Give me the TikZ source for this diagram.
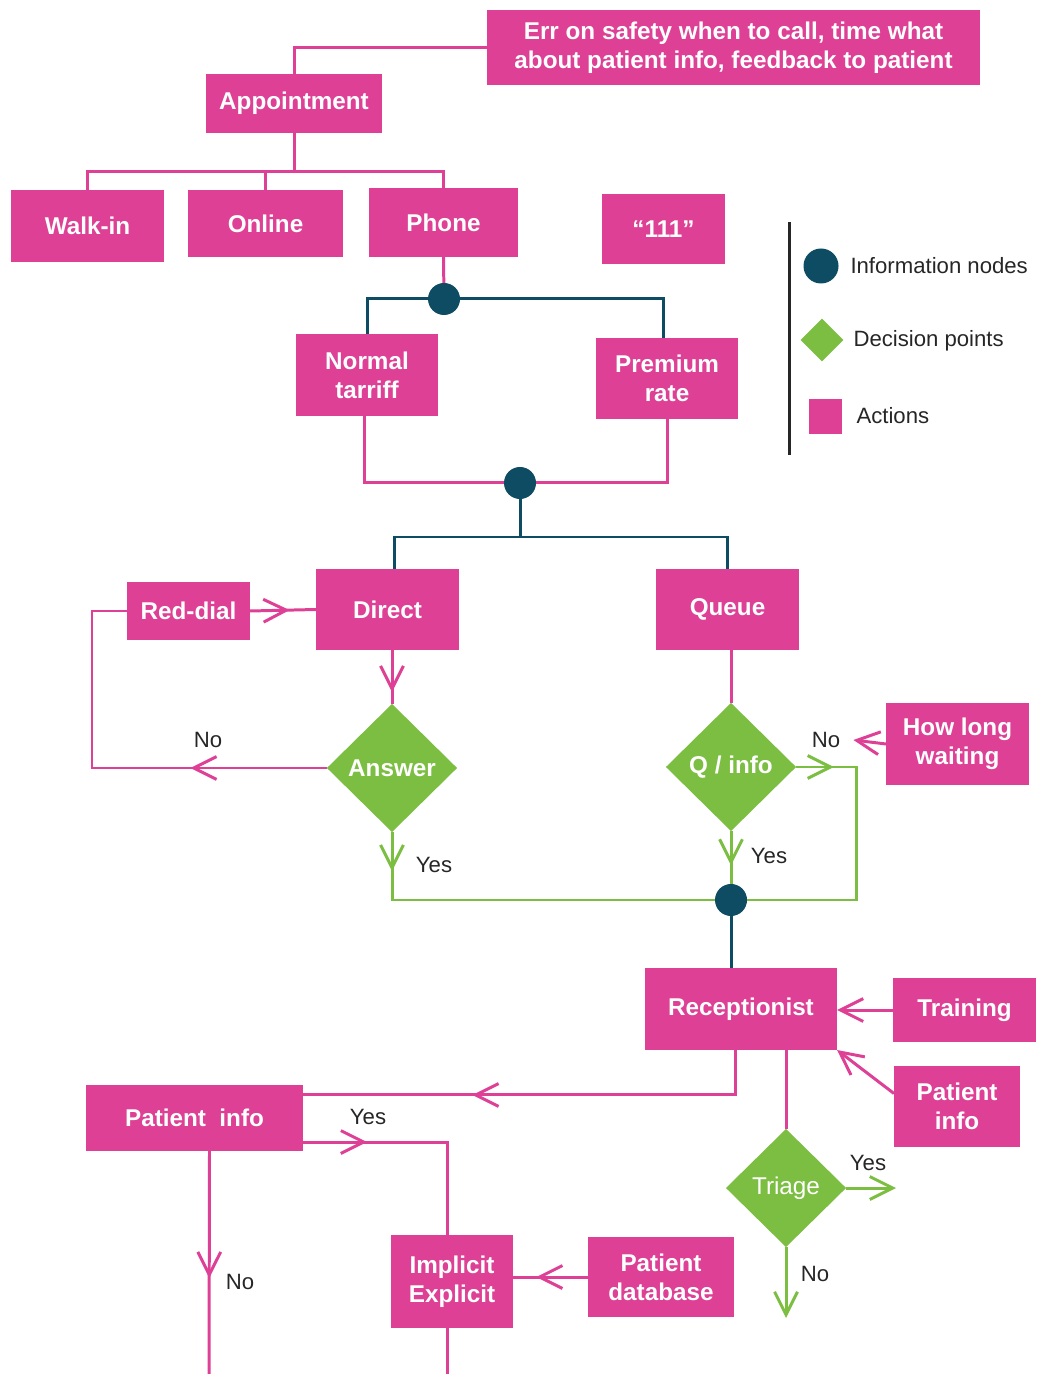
\documentclass[tikz,border=0pt]{standalone}
\usepackage{fontspec}
\setmainfont{Liberation Sans}
\usepackage{tikz}
\usetikzlibrary{arrows.meta}
\usetikzlibrary{calc}
\usetikzlibrary{shapes}
\usetikzlibrary{decorations.markings}

\definecolor{actpink}{RGB}{221,64,149}
\definecolor{decgreen}{RGB}{124,190,66}
\definecolor{infoteal}{RGB}{14,76,100}

\begin{document}
\begin{tikzpicture}[x=0.01cm, y=-0.01cm, line width=0.85pt,
        box_style/.style={rectangle,fill=actpink,text=white,inner sep=0pt,outer sep=0pt,align=center,font=\bfseries\fontsize{6.9}{8.3}\selectfont},
        dec_style/.style={diamond,fill=decgreen,text=white,inner sep=0pt,outer sep=0pt,minimum width=1.3cm,minimum height=1.28cm,font=\bfseries\fontsize{6.9}{8.3}\selectfont},
        info_style/.style={circle,fill=infoteal,inner sep=0pt,outer sep=0pt,minimum size=0.32cm},
        label_style/.style={font=\fontsize{6.3}{7.5}\selectfont,text=black!85},
        pink_edge/.style={draw=actpink,-},
        green_edge/.style={draw=decgreen,-},
        teal_edge/.style={draw=infoteal,-},
        tip_end/.style={-{Straight Barb[length=6.5pt,width=6.5pt]}},
        tip_mid/.style={postaction={decorate},decoration={markings,mark=at position #1 with {\arrow{Straight Barb[length=6.5pt,width=6.5pt]}}}}]

        \useasboundingbox (0,0) rectangle (1036,1374);

        % actions
        \node [box_style, minimum width=4.93cm, minimum height=0.75cm](errbox) at (733.5,47.5) {Err on safety when to call, time what\\about patient info, feedback to patient};
        \node [box_style, minimum width=1.76cm, minimum height=0.59cm](appoint) at (294,103.5) {Appointment};
        \node [box_style, minimum width=1.53cm, minimum height=0.72cm](walkin) at (87.5,226) {Walk-in};
        \node [box_style, minimum width=1.55cm, minimum height=0.67cm](online) at (265.5,223.5) {Online};
        \node [box_style, minimum width=1.49cm, minimum height=0.69cm](phone) at (443.5,222.5) {Phone};
        \node [box_style, minimum width=1.23cm, minimum height=0.70cm](q111) at (663.5,229) {``111''};
        \node [box_style, minimum width=1.42cm, minimum height=0.82cm](normal) at (367,375) {Normal\\tarriff};
        \node [box_style, minimum width=1.42cm, minimum height=0.81cm](premium) at (667,378.5) {Premium\\rate};
        \node [box_style, minimum width=1.43cm, minimum height=0.81cm](direct) at (387.5,609.5) {Direct};
        \node [box_style, minimum width=1.43cm, minimum height=0.81cm](queue) at (727.5,609.5) {Queue};
        \node [box_style, minimum width=1.23cm, minimum height=0.58cm](reddial) at (188.5,611) {Red-dial};
        \node [box_style, minimum width=1.43cm, minimum height=0.82cm](howlong) at (957.5,744) {How long\\waiting};
        \node [box_style, minimum width=1.92cm, minimum height=0.82cm](recep) at (741,1009) {Receptionist};
        \node [box_style, minimum width=1.43cm, minimum height=0.64cm](training) at (964.5,1010) {Training};
        \node [box_style, minimum width=1.26cm, minimum height=0.81cm](pinfo_r) at (957,1106.5) {Patient\\info};
        \node [box_style, minimum width=2.17cm, minimum height=0.66cm](pinfo_l) at (194.5,1118) {Patient\ \ info};
        \node [box_style, minimum width=1.22cm, minimum height=0.93cm](implicit) at (452,1281.5) {Implicit\\Explicit};
        \node [box_style, minimum width=1.46cm, minimum height=0.80cm](pdb) at (661,1277) {Patient\\database};

        % decisions
        \node [dec_style](answer) at (392,768) {Answer};
        \node [dec_style](qinfo) at (731,767) {Q / info};
        \node [dec_style, minimum width=1.2cm, minimum height=1.18cm, font=\fontsize{6.9}{8.3}\selectfont](triage) at (786,1188) {Triage};

        % information nodes
        \node [info_style](c1) at (444,299) {};
        \node [info_style](c2) at (520,483) {};
        \node [info_style](c3) at (731,900) {};

        % yes / no
        \node [label_style](no_a) at (208,740) {No};
        \node [label_style](yes_a) at (434,865) {Yes};
        \node [label_style](no_q) at (826,740) {No};
        \node [label_style](yes_q) at (769,856) {Yes};
        \node [label_style](yes_p) at (368,1117) {Yes};
        \node [label_style](no_p) at (240,1282) {No};
        \node [label_style](yes_t) at (868,1163) {Yes};
        \node [label_style](no_t) at (815,1274) {No};

        \coordinate (apt_bus) at (294,172);
        \coordinate (c2_bus) at (520,537);
        \coordinate (triage_yes) at (896,1188);
        \coordinate (triage_no) at (786,1318);
        \coordinate (pinfo_end) at (209,1374);
        \coordinate (implicit_end) at (447,1374);

        % legend
        \draw [black!85] (789,222) -- (789,455);
        \node [info_style, minimum size=0.35cm](leg_info) at (821,266) {};
        \node [diamond, fill=decgreen, inner sep=0pt, minimum size=0.44cm](leg_dec) at (822,340) {};
        \node [rectangle, fill=actpink, inner sep=0pt, minimum width=0.33cm, minimum height=0.35cm](leg_act) at (825.5,416.5) {};
        \node [label_style, anchor=west, inner sep=0pt](leg_info_txt) at (849,266) {Information nodes};
        \node [label_style, anchor=west, inner sep=0pt](leg_dec_txt) at (852,341) {Decision points};
        \node [label_style, anchor=west, inner sep=0pt](leg_act_txt) at (855,416) {Actions};

        % top tree
        \draw [pink_edge] (errbox.west) -| (appoint.north);
        \draw [pink_edge] (appoint.south) -- (apt_bus);
        \foreach \n in {walkin,online,phone}
            \draw [pink_edge] (apt_bus) -| (\n.north);
        \draw [pink_edge] (phone.south) -- (c1);
        \draw [teal_edge] (c1) -| (normal.north);
        \draw [teal_edge] (c1) -| ($(premium.north)+(-4,0)$);
        \draw [pink_edge] ($(normal.south)+(-3,0)$) |- (c2);
        \draw [pink_edge] (premium.south) |- (c2);
        \draw [teal_edge] (c2) -- (c2_bus);
        \draw [teal_edge] (c2_bus) -| ($(direct.north)+(7,0)$);
        \draw [teal_edge] (c2_bus) -| (queue.north);

        % direct line
        \draw [pink_edge, tip_mid=0.6] (reddial.east) -- (direct.west);
        \draw [pink_edge, tip_mid=0.78] (answer.north |- direct.south) -- (answer.north);
        \draw [pink_edge, tip_mid=0.32] (answer.west) -- (92,768) |- (reddial.west);
        \draw [green_edge, tip_mid=0.1] (answer.south) |- (c3.west);

        % queue
        \draw [pink_edge] (qinfo.north |- queue.south) -- (qinfo.north);
        \draw [green_edge, tip_mid=0.125] (qinfo.east) -- (856,767) |- (c3.east);
        \draw [green_edge, tip_mid=0.65] (qinfo.south) -- (c3.north);
        \draw [pink_edge, tip_end] (howlong.west) -- (no_q.east);

        % receptionist
        \draw [teal_edge] (c3.south) -- (c3.south |- recep.north);
        \draw [pink_edge, tip_end] (training.west) -- (training.west -| recep.east);
        \draw [pink_edge, tip_end] ($(pinfo_r.west)+(0,-13)$) -- (recep.south east);
        \draw [pink_edge, tip_mid=0.645] ($(recep.south)+(-6,0)$) |- ($(pinfo_l.north east)+(0,10)$);
        \draw [pink_edge] (recep.south -| triage.north) -- (triage.north);
        \draw [green_edge, tip_end] (triage.east) -- (triage_yes);
        \draw [green_edge, tip_end] (triage.south) -- (triage_no);

        % patient info
        \draw [pink_edge, tip_mid=0.27] ($(pinfo_l.south east)+(0,-9)$) -| ($(implicit.north)+(-5,0)$);
        \draw [pink_edge, tip_mid=0.57] ($(pinfo_l.south)+(15,0)$) -- (pinfo_end);
        \draw [pink_edge, tip_mid=0.69] (pdb.west) -- (pdb.west -| implicit.east);
        \draw [pink_edge] ($(implicit.south)+(-5,0)$) -- (implicit_end);
\end{tikzpicture}
\end{document}
